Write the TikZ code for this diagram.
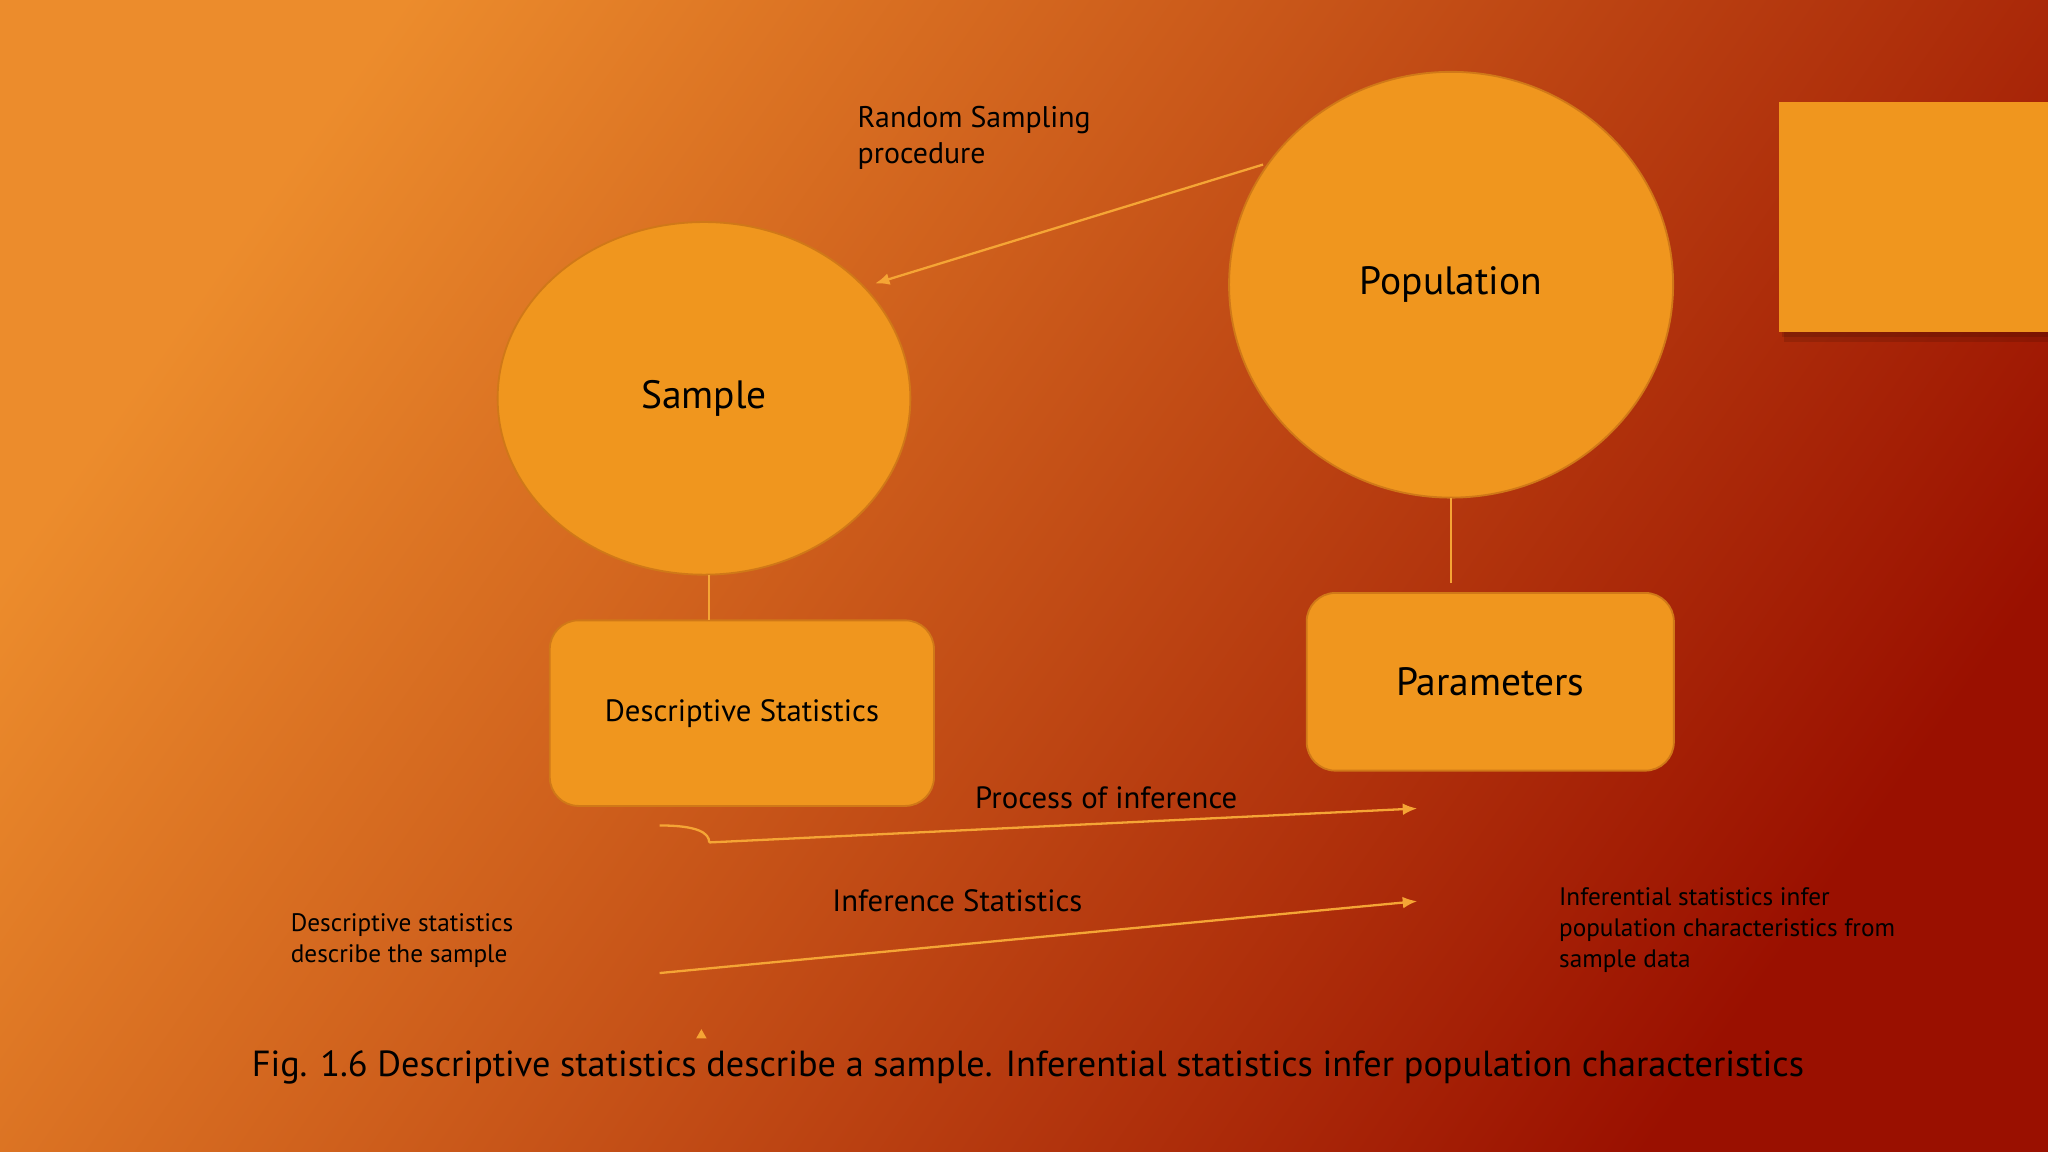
\documentclass[tikz,border=0pt]{standalone}
\usepackage{fontspec}
\setmainfont{PT Sans}
\usetikzlibrary{arrows.meta}
\definecolor{bgA}{HTML}{EC8C2C}
\definecolor{bgB}{HTML}{9A1000}
\definecolor{fillO}{HTML}{F0961E}
\definecolor{edgeO}{HTML}{D07818}
\definecolor{lineO}{HTML}{F5A535}
\tikzset{
  shapeO/.style={fill=fillO,draw=edgeO,line width=0.4pt},
  boxO/.style={shapeO,rounded corners=0.22cm},
  conn/.style={draw=lineO,line width=0.5pt},
  arr/.style={conn,-{Latex[length=1.1mm,width=0.9mm]}},
  lbl/.style={font=\fontsize{6.5pt}{7.8pt}\selectfont,align=left,anchor=north west,inner sep=0},
  small/.style={font=\fontsize{5.5pt}{6.7pt}\selectfont,align=left,anchor=north west,inner sep=0}
}
\begin{document}
\begin{tikzpicture}[x=0.01cm,y=-0.01cm]
\useasboundingbox (0,0) rectangle (1568,882);
\shade[top color=bgA,bottom color=bgB,shading angle=55] (0,0) rectangle (1568,882);
% square
\fill[black,opacity=0.12] (1366,80) rectangle (1568,262);
\fill[black,opacity=0.12] (1364,79) rectangle (1568,258);
\fill[fillO] (1362,78) rectangle (1568,254);
% shapes
\draw[shapeO] (539,305) ellipse [x radius=158,y radius=135];
\coordinate (smpB) at (543,440);
\node[font=\fontsize{8.6pt}{9pt}\selectfont] (smp) at (539,305) {Sample};
\draw[shapeO] (1111,218) ellipse [x radius=170,y radius=163];
\coordinate (popB) at (1111,381);
\coordinate (popL) at (967,126);
\node[font=\fontsize{8.6pt}{9pt}\selectfont] (pop) at (1111,218) {Population};
\node[boxO,minimum width=2.94cm,minimum height=1.42cm] (ds) at (568,546) {\fontsize{6.7pt}{7pt}\selectfont Descriptive Statistics};
\node[boxO,minimum width=2.81cm,minimum height=1.36cm] (par) at (1141,522) {\fontsize{8.6pt}{9pt}\selectfont Parameters};
\coordinate (dsT) at (543,475);
\coordinate (parT) at (1111,446);
\draw[conn] (smpB) -- (dsT);
\draw[conn] (popB) -- (parT);
\coordinate (smpR) at (670,217);
\draw[arr] (popL) -- (smpR);
\node[lbl] (rs) at (656,81) {Random Sampling\\procedure};
% inference arrows
\coordinate (c0) at (505,632);
\coordinate (c1) at (543,645);
\coordinate (c2) at (1085,619);
\draw[conn] (c0) .. controls (535,632) and (543,638) .. (c1);
\draw[arr] (c1) -- (c2);
\node[font=\fontsize{6.7pt}{7pt}\selectfont] (poi) at (847,611) {Process of inference};
\coordinate (d1) at (505,745);
\coordinate (d2) at (1085,690);
\draw[arr] (d1) -- (d2);
\node[font=\fontsize{6.7pt}{7pt}\selectfont] (ist) at (733,690) {Inference Statistics};
\node[small] (dl) at (222,699) {Descriptive statistics\\describe the sample};
\node[small] (il) at (1193,679) {Inferential statistics infer\\population characteristics from\\sample data};
\fill[lineO] (533,795) -- (541,795) -- (537,788) -- cycle;
\node[font=\fontsize{7.9pt}{8pt}\selectfont] (cap) at (787,817) {Fig. 1.6 Descriptive statistics describe a sample. Inferential statistics infer population characteristics};
\end{tikzpicture}
\end{document}
